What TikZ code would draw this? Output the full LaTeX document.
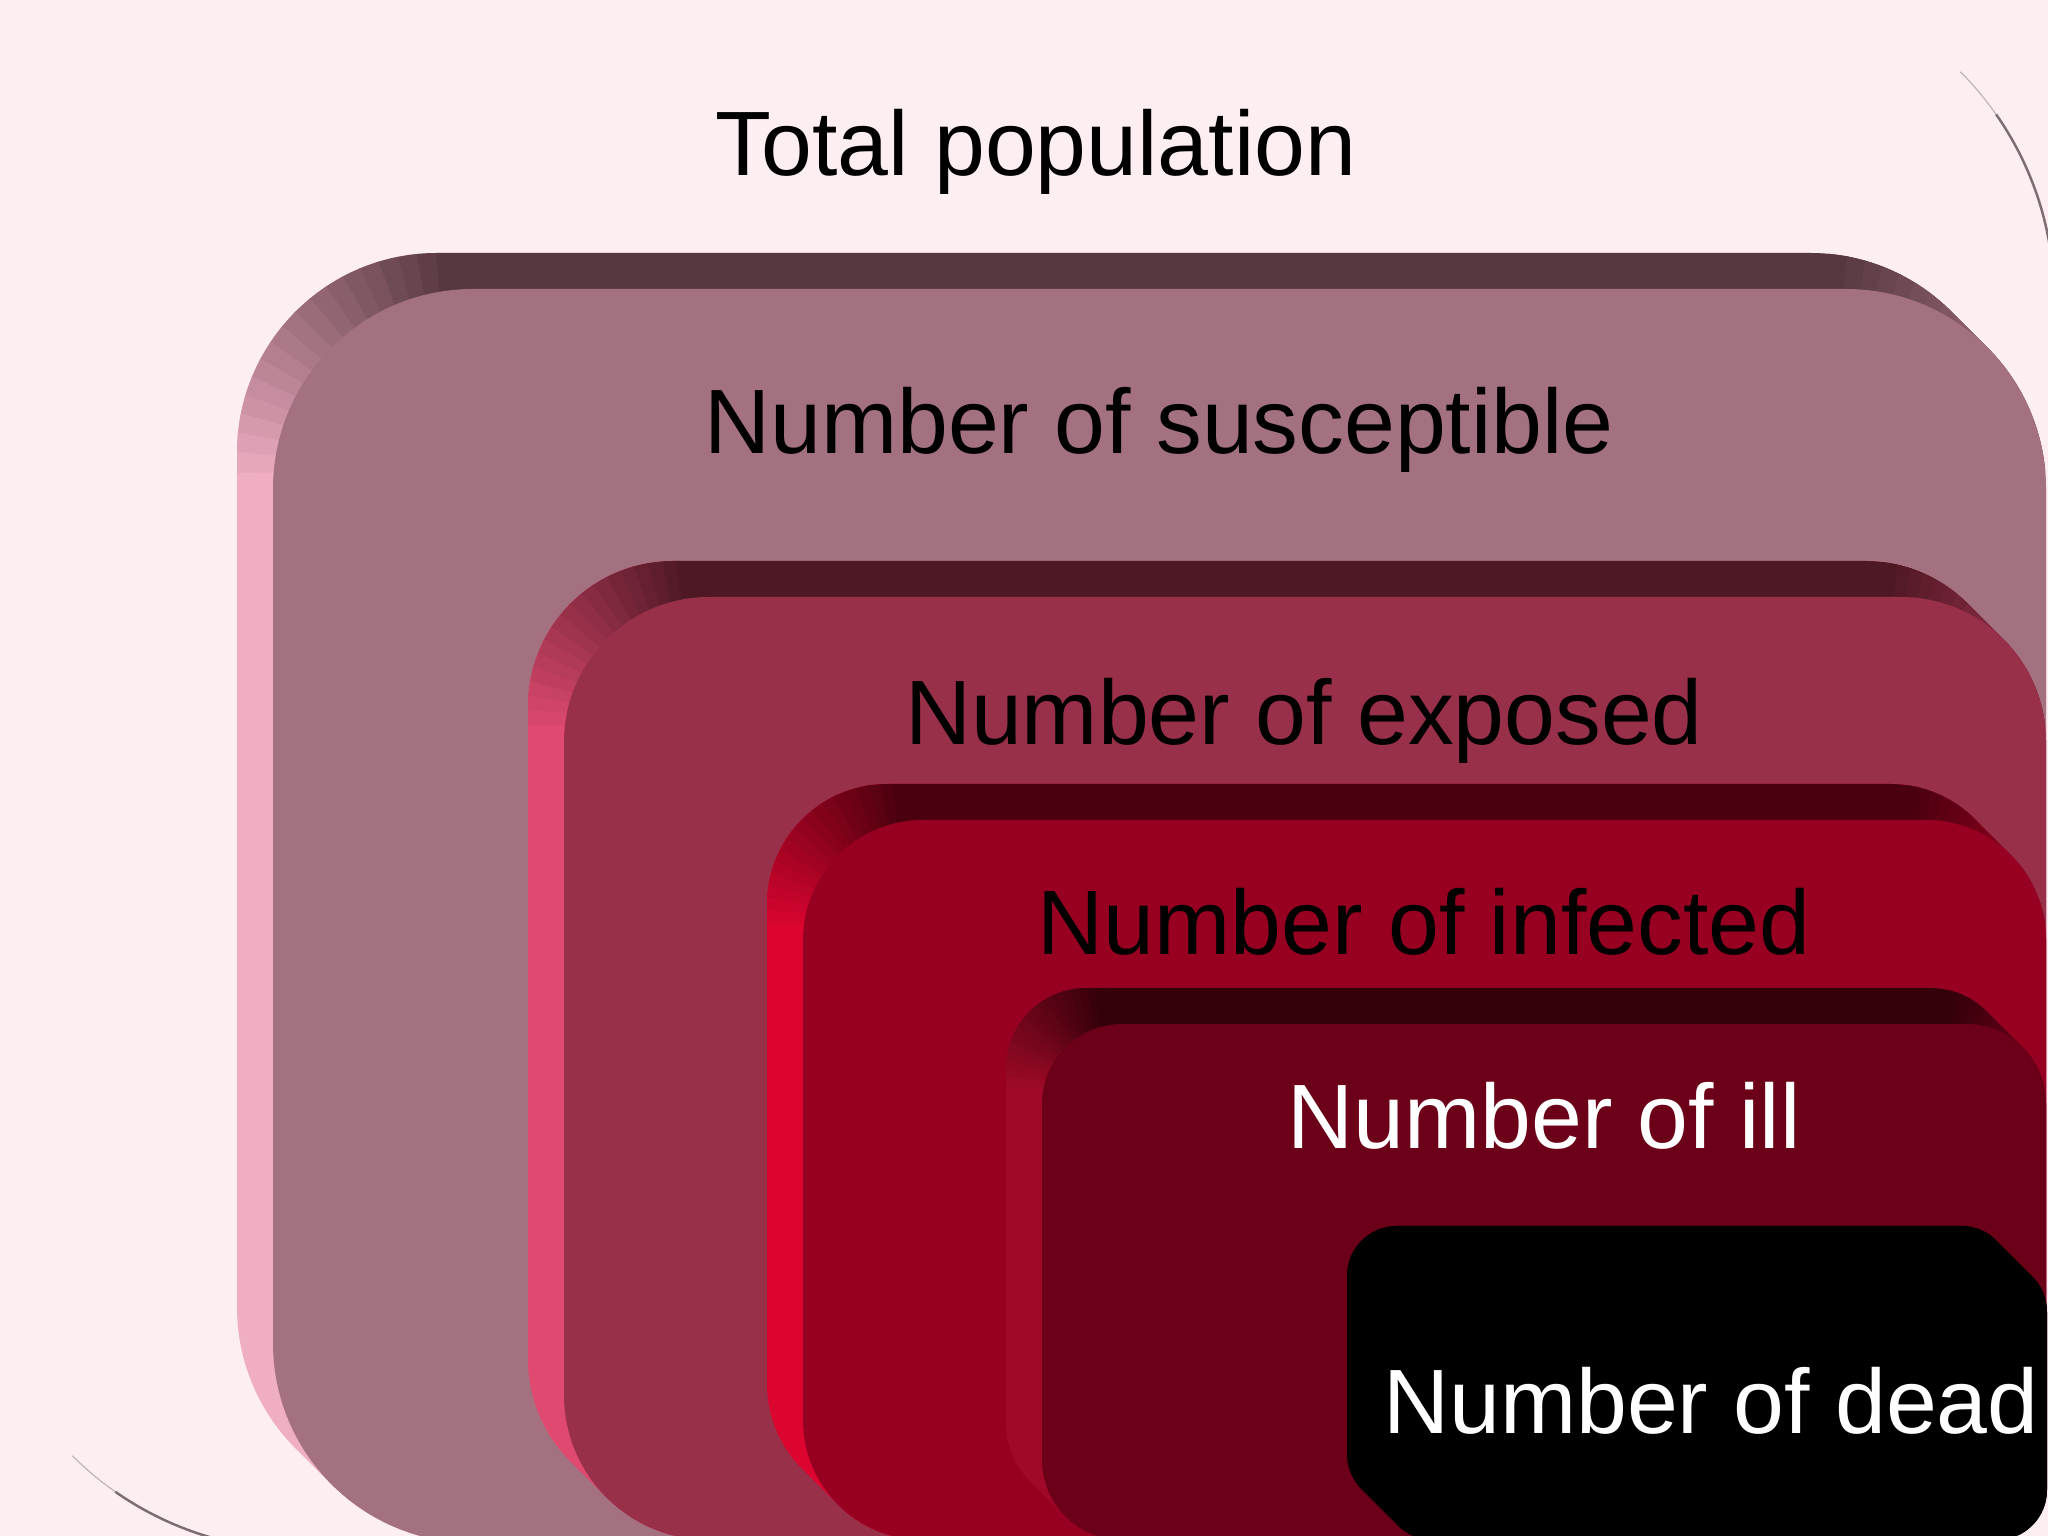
\documentclass[tikz,border=0pt]{standalone}
\usepackage{fontspec}
\setmainfont{Liberation Sans}
\usepackage{tikz}

\definecolor{bgpink}{HTML}{FDEEF1}
\definecolor{rimgray}{HTML}{7E6C72}
\definecolor{suscface}{HTML}{A37180}
\definecolor{susctop}{HTML}{573841}
\definecolor{suscside}{HTML}{F0AEC3}
\definecolor{expface}{HTML}{99304A}
\definecolor{exptop}{HTML}{4F1825}
\definecolor{expside}{HTML}{E04A70}
\definecolor{infface}{HTML}{970020}
\definecolor{inftop}{HTML}{4A000E}
\definecolor{infside}{HTML}{DC0530}
\definecolor{illface}{HTML}{6B0018}
\definecolor{illtop}{HTML}{34000A}
\definecolor{illside}{HTML}{A00A28}
\definecolor{deadface}{HTML}{000000}

\tikzstyle{darktext} = [anchor=base, inner sep=0pt, font=\fontsize{26}{30}\selectfont, text=black]
\tikzstyle{lighttext} = [darktext, text=white]

% #1 left, #2 bottom, #3 right, #4 top, #5 radius, #6 face, #7 top side, #8 left side
\newcommand{\layerbox}[8]{%
  \begin{scope}
    \clip[rounded corners={#5*0.01cm}] \foreach \t in {0,3,...,36} {({#1-\t},{#2+\t}) rectangle ({#3-\t},{#4+\t})};
    \fill[#8] ({#1-40},{#2-10}) rectangle ({#3+10},{#4+40});
    \fill[#7] ({#1+#5-18},{#4-#5+18}) rectangle ({#3+40},{#4+40});
    \foreach \a in {90,95,...,175} {
      \pgfmathtruncatemacro{\mixpct}{(\a-90)*100/90}
      \fill[#8!\mixpct!#7] ({#1+#5-18},{#4-#5+18}) -- +(\a:400) -- +({\a+5.5}:400) -- cycle;
    }
    \foreach \a in {90,85,...,25} {
      \pgfmathtruncatemacro{\mixpct}{min(70,(90-\a)*70/45)}
      \fill[#6!\mixpct!#7] ({#3-#5-18},{#4-#5+18}) -- +(\a:400) -- +({\a-5.5}:400) -- cycle;
    }
  \end{scope}
  \fill[#6, rounded corners={#5*0.01cm}] (#1,#2) rectangle (#3,#4);
}

\begin{document}
\begin{tikzpicture}[x=0.01cm, y=0.01cm]
  \useasboundingbox (0,0) rectangle (2048,1536);
  \clip (0,0) rectangle (2048,1536);

  % total population
  \fill[bgpink] (0,0) rectangle (2048,1536);
  \draw[rimgray!50, line width=0.35pt] (1734,1238) ++(45:320) arc[start angle=45, end angle=35, radius=320];
  \draw[rimgray, line width=0.7pt] (1734,1238) ++(35:320) arc[start angle=35, end angle=-5, radius=320];
  \draw[rimgray!50, line width=0.35pt] (300,308) ++(225:322) arc[start angle=225, end angle=235, radius=322];
  \draw[rimgray, line width=0.7pt] (300,308) ++(235:322) arc[start angle=235, end angle=275, radius=322];
  \node (Total) [darktext] at (1036,1360) {Total population};

  % nested groups
  \layerbox{273}{-7}{2046}{1247}{200}{suscface}{susctop}{suscside}
  \node (Susceptible) [darktext] at (1159,1082) {Number of susceptible};

  \layerbox{564}{-4}{2046}{939}{145}{expface}{exptop}{expside}
  \node (Exposed) [darktext] at (1304,791) {Number of exposed};

  \layerbox{803}{-4}{2046}{716}{120}{infface}{inftop}{infside}
  \node (Infected) [darktext] at (1424,581) {Number of infected};

  \layerbox{1042}{-4}{2046}{512}{80}{illface}{illtop}{illside}
  \node (Ill) [lighttext] at (1544,387) {Number of ill};

  \layerbox{1383}{-4}{2047}{274}{50}{deadface}{deadface}{deadface}
  \node (Dead) [lighttext] at (1711,102) {Number of dead};
\end{tikzpicture}
\end{document}
